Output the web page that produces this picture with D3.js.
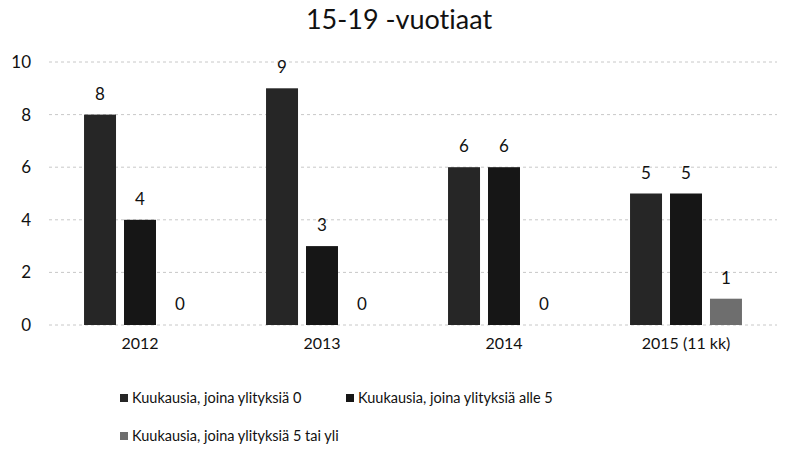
<!DOCTYPE html>
<html>
<head>
<meta charset="utf-8">
<script src="https://cdn.jsdelivr.net/npm/d3@7"></script>
<style>
  html, body { margin: 0; padding: 0; background: #fff; }
  svg { display: block; font-family: "Lato", "Noto Sans", sans-serif; font-variant-ligatures: none; }
</style>
</head>
<body>
<svg id="chart" width="794" height="461"></svg>
<script>
const categories = ["2012", "2013", "2014", "2015 (11 kk)"];
const seriesNames = [
  "Kuukausia, joina ylityksiä 0",
  "Kuukausia, joina ylityksiä alle 5",
  "Kuukausia, joina ylityksiä 5 tai yli"
];
const zeroMonths = [8, 9, 6, 5];
const underFive = [4, 3, 6, 5];
const fiveOrMore = [0, 0, 0, 1];
const yTicks = [0, 2, 4, 6, 8, 10];
const seriesColors = ["#262626", "#161616", "#6e6e6e"];

const series = [zeroMonths, underFive, fiveOrMore];
const svg = d3.select("#chart");

const plot = { left: 49, right: 777, top: 62, bottom: 325 };

const x0 = d3.scaleBand()
  .domain(categories)
  .range([plot.left, plot.right])
  .paddingInner(0.385)
  .paddingOuter(0.1925);

const x1 = d3.scaleBand()
  .domain(d3.range(series.length))
  .range([0, x0.bandwidth()])
  .paddingInner(0.2)
  .paddingOuter(0);

const y = d3.scaleLinear().domain([0, 10]).range([plot.bottom, plot.top]);

// Title
svg.append("text")
  .attr("x", 399).attr("y", 29)
  .attr("text-anchor", "middle")
  .attr("font-size", 27)
  .attr("fill", "#111")
  .text("15-19 -vuotiaat");

// Gridlines
svg.append("g")
  .selectAll("line")
  .data(yTicks)
  .join("line")
  .attr("x1", plot.left).attr("x2", plot.right)
  .attr("y1", d => y(d)).attr("y2", d => y(d))
  .attr("stroke", "#c8c8c8")
  .attr("stroke-width", 1)
  .attr("stroke-dasharray", "3,3");

// Y axis labels
const yAxis = d3.axisLeft(y).tickValues(yTicks).tickSize(0).tickPadding(0);
svg.append("g")
  .attr("transform", `translate(31,0)`)
  .call(yAxis)
  .call(g => g.select(".domain").remove())
  .call(g => g.selectAll("text")
    .attr("font-size", 17)
    .attr("fill", "#111")
    .attr("font-family", "Lato, 'Noto Sans', sans-serif"));

// X axis labels
const xAxis = d3.axisBottom(x0).tickSize(0).tickPadding(0);
svg.append("g")
  .attr("transform", `translate(0,${plot.bottom + 18})`)
  .call(xAxis)
  .call(g => g.select(".domain").remove())
  .call(g => g.selectAll("text")
    .attr("font-size", 16)
    .attr("fill", "#111")
    .attr("dy", "0.35em")
    .attr("font-family", "Lato, 'Noto Sans', sans-serif"));

// Bars
const rows = [];
categories.forEach((c, ci) => {
  series.forEach((s, si) => rows.push({ cat: c, si, v: s[ci] }));
});

svg.append("g")
  .selectAll("rect")
  .data(rows)
  .join("rect")
  .attr("x", d => x0(d.cat) + x1(d.si))
  .attr("y", d => y(d.v))
  .attr("width", x1.bandwidth())
  .attr("height", d => y(0) - y(d.v))
  .attr("fill", d => seriesColors[d.si]);

// Value labels
svg.append("g")
  .selectAll("text")
  .data(rows)
  .join("text")
  .attr("x", d => x0(d.cat) + x1(d.si) + x1.bandwidth() / 2)
  .attr("y", d => y(d.v) - 15)
  .attr("text-anchor", "middle")
  .attr("font-size", 17)
  .attr("fill", "#111")
  .text(d => d.v);

// Legend
const legendItems = [
  { name: seriesNames[0], color: seriesColors[0], x: 120, y: 398 },
  { name: seriesNames[1], color: seriesColors[1], x: 346, y: 398 },
  { name: seriesNames[2], color: seriesColors[2], x: 120, y: 436 }
];
const lg = svg.append("g")
  .selectAll("g")
  .data(legendItems)
  .join("g")
  .attr("transform", d => `translate(${d.x},${d.y})`);
lg.append("rect")
  .attr("x", 0).attr("y", -4)
  .attr("width", 8).attr("height", 8)
  .attr("fill", d => d.color);
lg.append("text")
  .attr("x", 12).attr("y", 0)
  .attr("dy", "0.35em")
  .attr("font-size", 14.5)
  .attr("fill", "#111")
  .text(d => d.name);
</script>
</body>
</html>
